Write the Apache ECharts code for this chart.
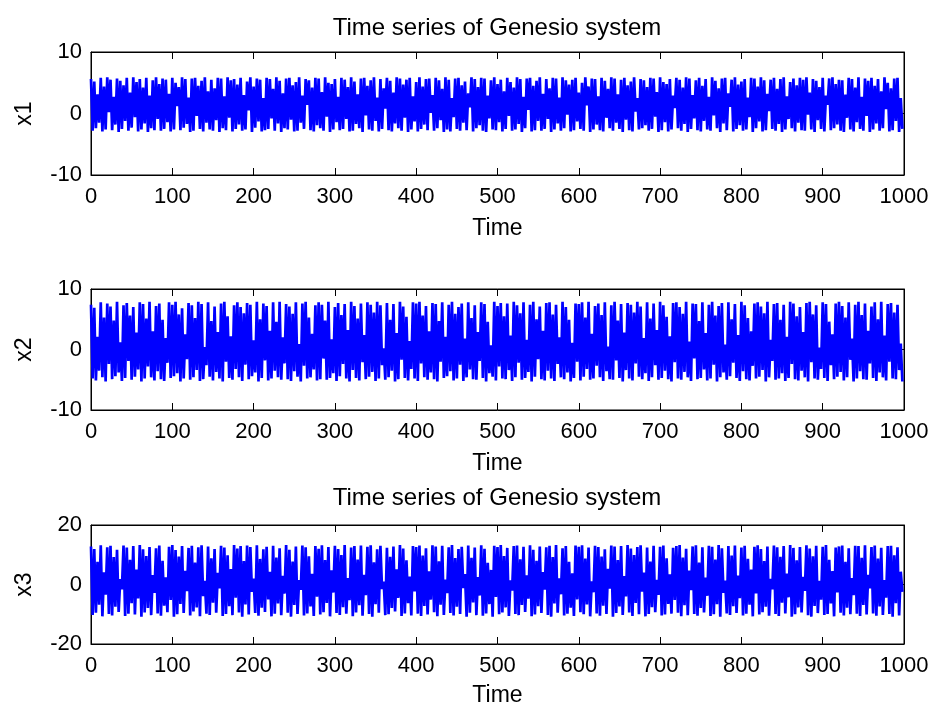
<!DOCTYPE html>
<html>
<head>
<meta charset="utf-8">
<title>Time series of Genesio system</title>
<script src="https://cdn.jsdelivr.net/npm/echarts@6/dist/echarts.min.js"></script>
<style>
  html, body { margin: 0; padding: 0; background: #fff; }
  #main { width: 934px; height: 710px; }
</style>
</head>
<body>
<div id="main"></div>
<script>
// one peak and one trough every sampleStep time units
var sampleStep = 4
var timeTicks = [0, 100, 200, 300, 400, 500, 600, 700, 800, 900, 1000]

// x1: local maxima / minima
var x1Peak = [
  5.6, 5.2, 3.1, 5.8, 4.4, 5.9, 5.5, 2.7, 5.7, 5.3, 4.6, 5.8, 3.4, 5.9, 5.1, 5.6, 4.2, 5.8, 2.9, 5.4,
  5.9, 4.8, 5.7, 5.5, 3.2, 5.8, 5.0, 4.3, 5.9, 5.6, 2.6, 5.7, 5.8, 4.5, 5.3, 5.9, 3.6, 5.5, 4.1, 5.8,
  5.7, 2.8, 5.9, 5.4, 5.6, 4.7, 5.8, 3.0, 5.2, 5.9, 4.4, 5.7, 5.5, 2.5, 5.8, 5.6, 4.0, 5.9, 5.3, 3.3,
  5.7, 5.8, 4.6, 5.1, 5.9, 2.9, 5.6, 5.4, 4.2, 5.8, 5.7, 3.5, 5.9, 5.0, 4.8, 5.6, 2.7, 5.8, 5.5, 4.3,
  5.9, 5.2, 3.1, 5.7, 5.8, 4.5, 5.4, 5.9, 2.6, 5.6, 4.1, 5.8, 5.3, 3.4, 5.9, 5.7, 4.7, 5.5, 5.8, 2.8,
  5.1, 5.9, 4.4, 5.6, 5.7, 3.0, 5.8, 5.4, 4.0, 5.9, 5.5, 2.5, 5.7, 5.8, 4.6, 5.2, 3.3, 5.9, 5.6, 4.3,
  5.8, 5.7, 2.9, 5.4, 5.9, 4.8, 5.5, 3.6, 5.8, 5.1, 4.2, 5.9, 5.6, 2.7, 5.7, 5.8, 4.5, 5.3, 5.9, 3.2,
  5.6, 4.1, 5.8, 5.7, 2.6, 5.9, 5.4, 4.7, 5.5, 5.8, 3.4, 5.0, 5.9, 4.4, 5.7, 5.6, 2.8, 5.8, 5.3, 4.0,
  5.9, 5.7, 3.1, 5.5, 5.8, 4.6, 5.2, 5.9, 2.5, 5.6, 5.4, 4.3, 5.8, 5.7, 3.5, 5.9, 5.1, 4.8, 5.6, 2.9,
  5.8, 5.5, 4.2, 5.9, 5.7, 3.0, 5.4, 5.8, 4.5, 5.6, 2.7, 5.9, 5.3, 4.1, 5.7, 5.8, 3.3, 5.5, 5.9, 4.7,
  5.2, 5.6, 2.6, 5.8, 5.7, 4.4, 5.9, 5.4, 3.2, 5.5, 5.8, 4.0, 5.6, 5.9, 2.8, 5.1, 5.7, 4.6, 5.8, 5.5,
  5.9, 3.4, 5.6, 5.3, 4.3, 5.8, 2.9, 5.7, 5.9, 4.8, 5.5, 5.4, 3.1, 5.8, 5.6, 4.2, 5.9, 2.7, 5.7, 5.3,
  5.8, 4.5, 5.6, 3.6, 5.9, 5.0, 4.1, 5.7, 5.8, 2.5
]
var x1Trough = [
  -2.8, -2.4, -1.5, -2.9, -2.6, 0.2, -2.7, -1.8, -3.0, -2.5, -1.2, -2.8, -2.3, -0.6, -2.9, -2.6, -1.6, -3.0, -2.4, -2.7,
  -0.9, -2.8, -2.5, -1.4, -2.9, -2.6, 1.2, -2.7, -2.3, -1.7, -3.0, -2.8, -0.4, -2.5, -2.9, -1.5, -2.6, -2.8, -1.1, -3.0,
  -2.4, -2.7, -0.7, -2.9, -2.5, -1.8, -2.8, -2.6, 0.5, -3.0, -2.3, -1.3, -2.9, -2.7, -2.5, -0.8, -2.8, -1.6, -3.0, -2.4,
  -2.6, -1.0, -2.9, -2.8, -1.5, -2.5, 1.4, -2.7, -2.9, -1.9, -2.4, -2.8, -0.5, -3.0, -2.6, -1.4, -2.7, -2.5, -0.9, -2.9,
  -2.8, -1.7, -2.4, -3.0, -0.3, -2.6, -2.8, -1.2, -2.9, -2.5, 0.8, -2.7, -2.9, -1.6, -2.4, -2.8, -0.7, -3.0, -2.6, -1.3,
  -2.9, -2.5, -1.8, -2.7, 0.1, -2.8, -2.4, -1.1, -3.0, -2.6, -2.9, -0.6, -2.5, -2.8, -1.5, -2.7, 1.0, -2.9, -2.4, -1.9,
  -2.8, -3.0, -0.8, -2.6, -2.7, -1.4, -2.9, -2.5, -0.4, -2.8, -2.6, -1.7, -3.0, -2.4, 0.6, -2.9, -2.7, -1.2, -2.8, -2.5,
  -0.9, -3.0, -2.6, -1.6, -2.8, -2.4, -0.2, -2.9, -2.7, -1.3, -2.5, -2.8, 1.3, -3.0, -2.6, -1.8, -2.7, -2.9, -0.7, -2.4,
  -2.8, -1.5, -2.5, -3.0, -1.0, -2.7, -2.9, 0.3, -2.6, -2.4, -1.9, -2.8, -2.5, -0.5, -3.0, -2.7, -1.4, -2.9, -2.6, 0.9,
  -2.4, -2.8, -1.7, -3.0, -2.5, -0.8, -2.7, -2.9, -1.2, -2.6, -2.8, -0.3, -2.4, -3.0, -1.6, -2.7, 1.1, -2.9, -2.5, -1.9,
  -2.8, -2.6, -0.6, -3.0, -2.4, -1.3, -2.9, -2.7, 0.4, -2.5, -2.8, -1.7, -3.0, -2.6, -0.9, -2.4, -2.9, -1.5, -2.7, -2.8,
  -0.2, -2.6, -3.0, -1.1, -2.5, -2.9, 1.4, -2.7, -2.4, -1.8, -2.8, -3.0, -0.7, -2.6, -2.9, -1.4, -2.5, -2.8, -0.4, -3.0,
  -2.6, -1.6, -2.8, -2.4, 0.7, -2.9, -2.7, -1.2, -3.0, -2.5
]

// x2: local maxima / minima
var x2Peak = [
  7.4, 6.9, 2.1, 7.8, 5.3, 7.6, 7.1, 4.8, 7.9, 1.2, 7.3, 7.7, 5.6, 7.0, 2.8, 7.8, 7.5, 5.1, 7.9, 3.0,
  7.2, 7.6, 4.9, 1.9, 7.8, 7.4, 7.9, 5.8, 6.8, 2.5, 7.7, 7.3, 5.2, 7.9, 7.5, 0.4, 7.8, 4.7, 7.1, 2.9,
  7.6, 7.9, 5.5, 2.2, 7.3, 7.8, 7.0, 6.0, 7.7, 7.4, 1.5, 7.9, 5.0, 7.6, 7.2, 3.1, 7.8, 4.6, 7.9, 2.0,
  7.5, 7.1, 5.9, 7.8, 0.9, 7.6, 7.9, 5.3, 2.6, 7.3, 7.8, 7.4, 4.8, 7.9, 1.7, 7.0, 7.7, 5.7, 7.5, 3.2,
  7.9, 7.2, 5.1, 7.6, 2.4, 7.8, 7.4, 6.1, 7.9, 7.3, 0.2, 7.7, 4.9, 7.5, 2.7, 7.9, 7.1, 5.4, 1.4, 7.8,
  7.6, 7.9, 5.6, 7.2, 3.0, 7.7, 7.5, 4.7, 7.8, 2.1, 7.4, 7.9, 5.9, 7.0, 7.6, 1.8, 7.8, 5.2, 7.3, 2.9,
  7.8, 7.5, 4.6, 0.7, 7.9, 7.2, 7.7, 5.5, 7.6, 2.3, 7.9, 7.3, 6.0, 7.8, 1.6, 7.4, 7.9, 5.0, 7.1, 3.1,
  7.7, 7.8, 5.8, 7.4, 2.0, 7.9, 7.0, 4.9, 1.1, 7.6, 7.5, 7.8, 5.3, 7.9, 2.6, 7.2, 7.6, 5.7, 7.8, 0.5,
  7.3, 7.9, 4.8, 7.5, 2.8, 7.7, 7.4, 6.1, 7.9, 7.1, 1.9, 7.8, 5.1, 7.6, 3.2, 7.9, 7.3, 5.4, 2.2, 7.7,
  7.8, 7.0, 5.9, 7.9, 1.3, 7.6, 7.5, 4.7, 7.8, 2.7, 7.4, 7.9, 5.6, 7.2, 7.7, 0.8, 7.8, 5.0, 7.5, 2.4,
  7.9, 7.3, 5.2, 3.0, 7.6, 7.8, 7.1, 6.0, 7.9, 1.6, 7.5, 7.7, 4.9, 7.4, 2.1, 7.9, 7.6, 5.5, 7.0, 2.9,
  7.7, 7.9, 5.8, 7.3, 0.3, 7.8, 7.5, 4.6, 2.5, 7.6, 7.9, 7.2, 5.3, 7.8, 1.8, 7.4, 7.9, 5.7, 7.6, 3.1,
  7.1, 7.8, 5.0, 7.9, 2.3, 7.5, 7.7, 6.1, 7.4, 1.0
]
var x2Trough = [
  -4.8, -5.1, -3.5, -4.6, -5.3, -2.4, -4.9, -4.4, -3.8, -5.2, -4.7, -1.9, -5.0, -4.5, -3.3, -5.3, -4.8, -2.8, -4.6, -5.1,
  -3.6, -4.9, -5.2, -2.2, -4.7, -4.4, -3.9, -5.3, -4.8, -1.6, -5.0, -4.6, -3.4, -5.2, -4.9, -2.6, -4.5, -5.1, -3.7, -4.8,
  -5.3, -2.0, -4.7, -5.0, -3.2, -4.6, -5.2, -2.5, -4.9, -4.4, -3.8, -5.3, -4.7, -1.8, -5.1, -4.8, -3.5, -4.6, -5.0, -2.3,
  -4.9, -5.2, -3.6, -4.5, -5.3, -2.7, -4.8, -4.6, -3.3, -5.1, -4.9, -1.5, -5.0, -4.7, -3.9, -5.2, -4.4, -2.4, -4.8, -5.3,
  -3.4, -4.7, -5.1, -2.1, -4.9, -4.5, -3.7, -5.2, -4.8, -2.6, -5.0, -4.6, -3.5, -5.3, -4.9, -1.7, -4.7, -5.1, -3.2, -4.8,
  -5.2, -2.3, -4.6, -5.0, -3.8, -4.9, -5.3, -2.0, -4.7, -4.4, -3.6, -5.1, -4.8, -2.5, -5.2, -4.6, -3.3, -4.9, -5.0, -1.9,
  -4.7, -5.3, -3.9, -4.5, -5.1, -2.8, -4.8, -4.9, -3.4, -5.2, -4.6, -2.2, -5.0, -4.7, -3.7, -5.3, -4.5, -1.6, -4.9, -5.1,
  -3.5, -4.8, -5.2, -2.4, -4.6, -4.9, -3.8, -5.3, -4.7, -2.0, -5.1, -4.5, -3.2, -5.0, -4.8, -2.7, -4.6, -5.2, -3.6, -4.9,
  -5.0, -1.8, -4.7, -5.3, -3.4, -4.8, -5.1, -2.3, -4.5, -4.9, -3.9, -5.2, -4.6, -2.6, -5.0, -4.7, -3.5, -4.9, -5.3, -2.1,
  -4.8, -5.0, -3.7, -4.6, -5.2, -1.5, -4.9, -4.7, -3.3, -5.1, -4.8, -2.5, -5.3, -4.6, -3.8, -5.0, -4.4, -2.2, -4.7, -5.2,
  -3.6, -4.9, -5.1, -2.7, -4.8, -4.5, -3.4, -5.3, -4.6, -1.9, -5.0, -4.8, -3.9, -5.2, -4.7, -2.4, -4.9, -5.1, -3.5, -4.6,
  -5.3, -2.1, -4.8, -5.0, -3.2, -4.7, -5.2, -2.6, -4.9, -4.5, -3.7, -5.1, -4.6, -1.7, -5.3, -4.8, -3.6, -4.9, -5.0, -2.3,
  -4.7, -5.2, -3.8, -4.6, -5.1, -2.0, -4.8, -4.9, -3.4, -5.3
]

// x3: local maxima / minima
var x3Peak = [
  12.8, 11.9, 7.6, 13.2, 4.1, 12.5, 13.0, 9.2, 11.7, 1.8, 13.1, 12.4, 8.3, 12.9, 5.0, 13.3, 11.8, 9.6, 12.6, 3.2,
  12.2, 13.1, 8.0, 2.4, 12.7, 13.3, 11.6, 9.4, 12.9, 4.6, 12.3, 13.0, 7.4, 12.5, 13.2, 1.2, 12.8, 8.8, 11.9, 3.9,
  13.0, 12.4, 9.8, 5.2, 13.3, 12.1, 12.9, 7.9, 13.1, 12.6, 2.0, 13.2, 8.6, 11.8, 12.7, 4.3, 13.0, 9.1, 12.2, 2.9,
  13.3, 11.7, 7.7, 12.8, 1.5, 13.1, 12.5, 9.5, 3.6, 12.9, 12.0, 13.2, 8.2, 12.6, 4.8, 13.0, 11.9, 9.9, 13.3, 2.2,
  12.4, 12.9, 8.4, 13.1, 3.3, 12.7, 13.2, 7.5, 11.8, 13.0, 1.0, 12.3, 9.3, 12.8, 5.1, 13.3, 12.1, 8.1, 2.7, 12.9,
  12.6, 13.1, 9.7, 12.2, 4.4, 13.2, 12.8, 7.8, 13.0, 1.7, 12.5, 13.3, 8.9, 11.9, 12.7, 3.5, 13.1, 9.0, 12.4, 2.5,
  13.2, 12.0, 7.3, 4.9, 13.0, 12.6, 13.3, 9.6, 12.3, 1.4, 12.9, 13.1, 8.5, 12.7, 3.1, 13.2, 11.7, 8.0, 12.8, 4.2,
  12.5, 13.0, 9.2, 13.3, 2.1, 12.2, 12.9, 7.6, 3.8, 13.1, 12.7, 13.2, 8.7, 12.4, 1.1, 13.0, 12.6, 9.4, 11.8, 5.3,
  13.1, 12.8, 8.2, 12.9, 2.8, 13.3, 12.1, 9.9, 12.6, 13.2, 4.0, 12.4, 7.7, 13.0, 1.6, 12.7, 13.1, 8.8, 3.4, 12.3,
  12.9, 13.3, 9.1, 12.0, 4.7, 12.8, 13.2, 7.4, 12.5, 2.3, 13.0, 12.7, 8.4, 13.3, 12.2, 1.3, 12.9, 9.7, 13.1, 3.0,
  12.4, 13.0, 8.6, 5.0, 12.7, 13.2, 11.9, 7.9, 12.8, 1.9, 13.1, 12.5, 9.3, 12.9, 3.7, 13.3, 12.3, 8.1, 12.6, 2.6,
  13.2, 12.1, 9.5, 13.0, 1.2, 12.7, 13.3, 8.3, 4.5, 12.4, 12.8, 13.1, 7.6, 12.2, 2.2, 13.0, 12.9, 9.0, 13.2, 3.3,
  12.6, 13.1, 8.7, 12.3, 1.5, 12.9, 13.0, 9.8, 12.5, 4.3
]
var x3Trough = [
  -10.2, -9.5, -6.8, -10.7, -3.4, -9.9, -10.4, -7.5, -9.2, -1.6, -10.6, -9.8, -6.3, -10.1, -4.7, -10.8, -9.4, -7.9, -10.3, -2.8,
  -9.7, -10.5, -7.1, -9.3, -5.2, -10.8, -10.0, -6.5, -9.6, -2.2, -10.4, -9.1, -7.7, -10.7, -3.9, -9.8, -10.2, -6.1, -9.5, -1.3,
  -10.6, -9.9, -7.3, -10.3, -4.4, -9.4, -10.8, -6.7, -10.1, -2.5, -9.6, -10.5, -7.8, -9.2, -5.0, -10.7, -9.8, -6.4, -10.3, -3.1,
  -9.5, -10.8, -6.9, -9.9, -1.8, -10.4, -9.7, -7.4, -10.6, -4.1, -10.1, -9.3, -6.2, -10.7, -2.7, -9.6, -10.2, -7.6, -9.8, -5.3,
  -10.7, -9.4, -7.0, -10.5, -3.6, -9.9, -10.8, -6.6, -9.5, -1.5, -10.3, -10.0, -7.9, -9.1, -4.5, -10.6, -9.7, -6.3, -10.4, -2.3,
  -9.8, -10.6, -7.2, -10.1, -5.1, -9.3, -10.7, -6.8, -10.2, -2.9, -9.6, -10.4, -7.5, -9.9, -1.2, -10.8, -9.5, -6.0, -10.3, -3.7,
  -10.5, -9.7, -6.6, -10.8, -4.2, -10.0, -9.4, -7.7, -10.6, -2.0, -9.9, -10.3, -6.9, -9.2, -4.8, -10.7, -10.1, -7.3, -9.6, -1.7,
  -10.2, -10.8, -6.4, -9.5, -3.3, -10.4, -9.8, -7.8, -10.6, -5.0, -9.3, -10.0, -6.7, -10.7, -2.6, -9.7, -10.5, -7.1, -9.9, -1.4,
  -10.8, -9.6, -7.4, -10.2, -4.0, -9.4, -10.6, -6.2, -10.0, -2.4, -10.7, -9.9, -7.6, -9.3, -3.5, -10.4, -10.1, -6.5, -9.8, -5.2,
  -9.5, -10.7, -7.0, -10.3, -1.9, -9.9, -10.5, -7.9, -9.4, -3.8, -10.6, -10.0, -6.6, -10.8, -2.8, -9.7, -10.2, -7.3, -9.6, -4.6,
  -10.4, -9.8, -6.8, -10.7, -3.0, -10.1, -9.3, -7.5, -10.5, -1.6, -9.9, -10.6, -6.1, -9.7, -4.3, -10.8, -10.0, -7.7, -9.4, -2.1,
  -10.3, -10.8, -7.2, -9.6, -5.1, -10.2, -9.9, -6.4, -10.7, -2.7, -9.5, -10.4, -7.8, -10.0, -3.6, -9.8, -10.6, -6.9, -10.1, -1.3,
  -9.7, -10.5, -7.4, -10.2, -4.4, -9.9, -10.8, -6.3, -10.4, -2.5
]

var fontFamily = '"Liberation Sans", Arial, Helvetica, sans-serif'
var lineColor = '#0000ff'

// peaks and troughs alternate: peak i sits at i*step, trough i half a step later
function zigzag(peaks, troughs) {
  var pts = []
  var n = Math.min(peaks.length, troughs.length)
  for (var i = 0; i < n; i++) {
    pts.push([i * sampleStep, peaks[i]])
    pts.push([i * sampleStep + sampleStep / 2, troughs[i]])
  }
  return pts
}

var panels = [
  { name: 'x1', peaks: x1Peak, troughs: x1Trough, min: -10, max: 10, interval: 10, top: 52, height: 123, timeGap: 42 },
  { name: 'x2', peaks: x2Peak, troughs: x2Trough, min: -10, max: 10, interval: 10, top: 289, height: 121, timeGap: 42 },
  { name: 'x3', peaks: x3Peak, troughs: x3Trough, min: -20, max: 20, interval: 20, top: 525, height: 119, timeGap: 40 }
]

var grids = []
var xAxes = []
var yAxes = []
var series = []

panels.forEach(function (p, g) {
  grids.push({
    left: 91, width: 813, top: p.top, height: p.height,
    show: true, borderColor: '#000', borderWidth: 1, backgroundColor: '#fff'
  })
  // bottom axis with labels
  xAxes.push({
    gridIndex: g, type: 'value', position: 'bottom',
    min: timeTicks[0], max: timeTicks[timeTicks.length - 1], interval: timeTicks[1] - timeTicks[0],
    axisLine: { show: true, onZero: false, lineStyle: { color: '#000', width: 1 } },
    axisTick: { show: true, inside: true, length: 7, lineStyle: { color: '#000', width: 1 } },
    axisLabel: {
      color: '#000', fontSize: 22, fontFamily: fontFamily, margin: 11,
      formatter: function (v) { return String(v) }
    },
    splitLine: { show: false },
    name: 'Time', nameLocation: 'middle', nameGap: p.timeGap,
    nameTextStyle: { color: '#000', fontSize: 23, fontFamily: fontFamily }
  })
  // top axis, ticks only (matlab box)
  xAxes.push({
    gridIndex: g, type: 'value', position: 'top',
    min: timeTicks[0], max: timeTicks[timeTicks.length - 1], interval: timeTicks[1] - timeTicks[0],
    axisLine: { show: true, onZero: false, lineStyle: { color: '#000', width: 1 } },
    axisTick: { show: true, inside: true, length: 7, lineStyle: { color: '#000', width: 1 } },
    axisLabel: { show: false },
    splitLine: { show: false }
  })
  yAxes.push({
    gridIndex: g, type: 'value', position: 'left',
    min: p.min, max: p.max, interval: p.interval,
    axisLine: { show: true, onZero: false, lineStyle: { color: '#000', width: 1 } },
    axisTick: { show: true, inside: true, length: 7, lineStyle: { color: '#000', width: 1 } },
    axisLabel: { color: '#000', fontSize: 22, fontFamily: fontFamily, margin: 9 },
    splitLine: { show: false },
    name: p.name, nameLocation: 'middle', nameGap: 55,
    nameTextStyle: { color: '#000', fontSize: 23, fontFamily: fontFamily }
  })
  yAxes.push({
    gridIndex: g, type: 'value', position: 'right',
    min: p.min, max: p.max, interval: p.interval,
    axisLine: { show: true, onZero: false, lineStyle: { color: '#000', width: 1 } },
    axisTick: { show: true, inside: true, length: 7, lineStyle: { color: '#000', width: 1 } },
    axisLabel: { show: false },
    splitLine: { show: false }
  })
  series.push({
    name: p.name,
    type: 'line',
    xAxisIndex: g * 2,
    yAxisIndex: g * 2,
    data: zigzag(p.peaks, p.troughs),
    showSymbol: false,
    symbol: 'none',
    sampling: null,
    lineStyle: { color: lineColor, width: 2.7 },
    z: 1
  })
})

var chart = echarts.init(document.getElementById('main'), null, { renderer: 'canvas' })
chart.setOption({
  backgroundColor: '#fff',
  animation: false,
  title: [
    {
      text: 'Time series of Genesio system', left: 497, top: 16, padding: 0, textAlign: 'center',
      textStyle: { color: '#000', fontSize: 24, fontWeight: 'normal', fontFamily: fontFamily }
    },
    {
      text: 'Time series of Genesio system', left: 497, top: 486, padding: 0, textAlign: 'center',
      textStyle: { color: '#000', fontSize: 24, fontWeight: 'normal', fontFamily: fontFamily }
    }
  ],
  grid: grids,
  xAxis: xAxes,
  yAxis: yAxes,
  series: series
})
</script>
</body>
</html>
